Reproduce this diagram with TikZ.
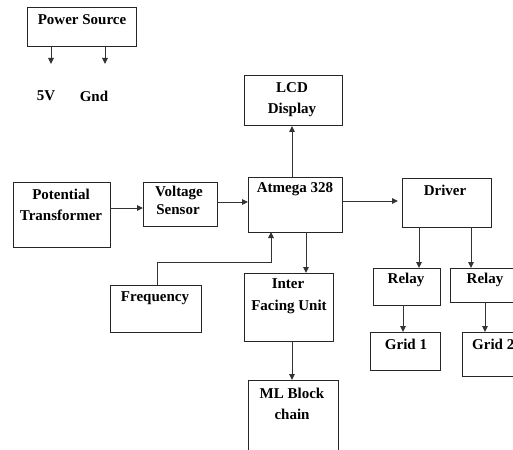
\documentclass[tikz,border=0pt]{standalone}
\usepackage{fontspec}
\setmainfont{Liberation Serif}
\usetikzlibrary{arrows.meta}
\tikzset{
  box/.style={draw=black!85, line width=1pt, inner sep=0pt, outer sep=0pt},
  lbl/.style={inner sep=0pt, font=\fontsize{15}{17}\selectfont\bfseries, text=black},
  arr/.style={draw=black!80, line width=1pt, -{Triangle[length=6pt,width=5.5pt]}}
}
\begin{document}
\begin{tikzpicture}[x=1pt,y=-1pt]
\useasboundingbox (0,0) rectangle (513,449);
\clip (0,0) rectangle (513,449);
% boxes
\node[box, minimum width=109pt, minimum height=39pt] (ps) at (81.5,27.5) {};
\node[box, minimum width=97pt, minimum height=65pt] (pt) at (61.5,214.5) {};
\node[box, minimum width=74pt, minimum height=44pt] (vs) at (180,204) {};
\node[box, minimum width=98pt, minimum height=50pt] (lcd) at (293,101) {};
\node[box, minimum width=94pt, minimum height=55pt] (atm) at (295,204.5) {};
\node[box, minimum width=89pt, minimum height=49pt] (drv) at (446.5,202.5) {};
\node[box, minimum width=91pt, minimum height=47pt] (frq) at (155.5,308.5) {};
\node[box, minimum width=89pt, minimum height=68pt] (ifu) at (288.5,307) {};
\node[box, minimum width=90pt, minimum height=90pt] (ml) at (293,425) {};
\node[box, minimum width=67pt, minimum height=37pt] (r1) at (406.5,286.5) {};
\node[box, minimum width=70pt, minimum height=34pt] (r2) at (485,285) {};
\node[box, minimum width=70pt, minimum height=38pt] (g1) at (405,351) {};
\node[box, minimum width=68pt, minimum height=44pt] (g2) at (496,354) {};
% texts
\node[lbl] (tps) at (82,20) {Power Source};
\node[lbl] (t5v) at (46,96) {5V};
\node[lbl] (tgnd) at (94,96) {Gnd};
\node[lbl] (tpt1) at (61,194) {Potential};
\node[lbl] (tpt2) at (61,215) {Transformer};
\node[lbl] (tvs1) at (179,193) {Voltage};
\node[lbl] (tvs2) at (178,210) {Sensor};
\node[lbl] (tlcd1) at (292,88) {LCD};
\node[lbl] (tlcd2) at (292,110) {Display};
\node[lbl] (tatm) at (295,189) {Atmega 328};
\node[lbl] (tdrv) at (445,190) {Driver};
\node[lbl] (tfrq) at (155,298) {Frequency};
\node[lbl] (tifu1) at (288,284) {Inter};
\node[lbl] (tifu2) at (289,307) {Facing Unit};
\node[lbl] (tml1) at (292,393) {ML Block};
\node[lbl] (tml2) at (292,414) {chain};
\node[lbl] (tr1) at (406,280) {Relay};
\node[lbl] (tr2) at (485,280) {Relay};
\node[lbl] (tg1) at (406,344) {Grid 1};
\node[lbl, anchor=west] (tg2) at (472,344) {Grid 2};
% connector end points
\coordinate (v5tip) at (51,64);
\coordinate (gndtip) at (105,64);
\coordinate (fk) at (271,262);
% connectors
\draw[arr] (ps.south -| v5tip) -- (v5tip);
\draw[arr] (ps.south -| gndtip) -- (gndtip);
\draw[arr] ([yshift=6.5pt]pt.east) -- ([yshift=6.5pt]pt.east -| vs.west);
\draw[arr] ([yshift=2pt]vs.east) -- ([yshift=2pt]vs.east -| atm.west);
\draw[arr] ([xshift=-3pt]atm.north) -- ([xshift=-3pt]atm.north |- lcd.south);
\draw[arr, shorten >=4pt] ([yshift=3.5pt]atm.east) -- ([yshift=3.5pt]atm.east -| drv.west);
\draw[arr] ([xshift=-27.5pt]drv.south) -- ([xshift=-27.5pt]drv.south |- r1.north);
\draw[arr] ([xshift=24.5pt]drv.south) -- ([xshift=24.5pt]drv.south |- r2.north);
\draw[arr] ([xshift=1.5pt]frq.north) |- (fk) -- (fk |- atm.south);
\draw[arr] ([xshift=11pt]atm.south) -- ([xshift=11pt]atm.south |- ifu.north);
\draw[arr] ([xshift=3.5pt]ifu.south) -- ([xshift=3.5pt]ifu.south |- ml.north);
\draw[arr] ([xshift=-3.5pt]r1.south) -- ([xshift=-3.5pt]r1.south |- g1.north);
\draw[arr] (r2.south) -- (r2.south |- g2.north);
\end{tikzpicture}
\end{document}
